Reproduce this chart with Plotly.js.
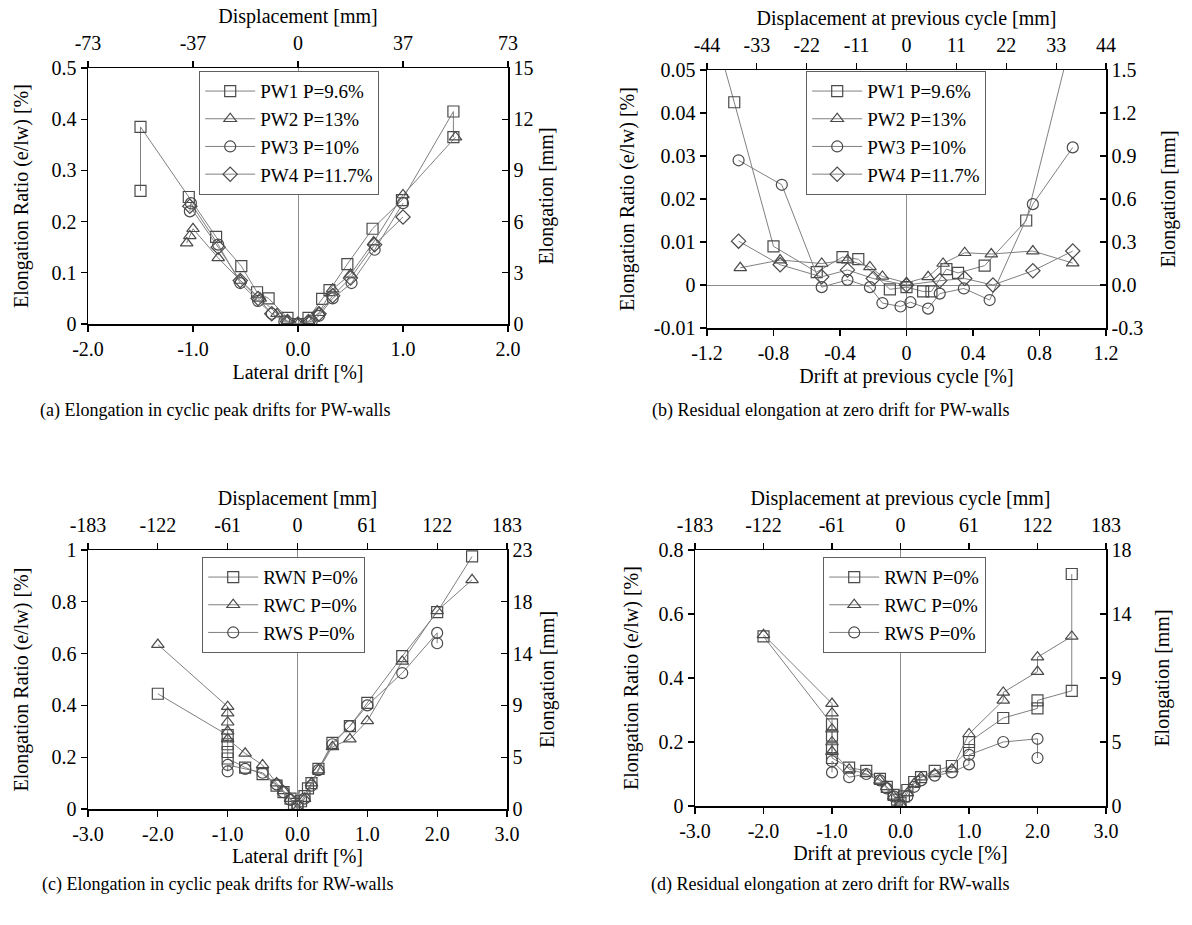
<!DOCTYPE html>
<html>
<head>
<meta charset="utf-8">
<script src="https://cdn.plot.ly/plotly-3.0.1.min.js"></script>
<style>html,body{margin:0;padding:0;background:#fff;}#chart{width:1192px;height:925px;}</style>
</head>
<body>
<div id="chart"></div>
<script>
// ---------- Panel (a): Elongation in cyclic peak drifts, PW walls ----------
const aPW1x = [-1.5, -1.5, -1.04, -0.78, -0.54, -0.39, -0.28, -0.1, 0.0, 0.1, 0.23, 0.3, 0.47, 0.71, 0.99, 1.48, 1.48];
const aPW1y = [0.26, 0.385, 0.248, 0.17, 0.113, 0.062, 0.05, 0.012, 0.0, 0.012, 0.049, 0.066, 0.117, 0.186, 0.242, 0.415, 0.365];
const aPW2x = [-1.06, -1.03, -1.0, -0.76, -0.55, -0.36, -0.2, -0.1, 0.0, 0.1, 0.2, 0.33, 0.5, 0.72, 1.0, 1.5];
const aPW2y = [0.158, 0.172, 0.186, 0.129, 0.085, 0.05, 0.02, 0.006, 0.0, 0.006, 0.022, 0.068, 0.097, 0.16, 0.252, 0.365];
const aPW3x = [-1.03, -1.02, -0.76, -0.55, -0.38, -0.25, -0.13, 0.0, 0.13, 0.2, 0.33, 0.51, 0.73, 1.0];
const aPW3y = [0.22, 0.236, 0.155, 0.08, 0.045, 0.02, 0.005, 0.0, 0.005, 0.016, 0.05, 0.08, 0.145, 0.236];
const aPW4x = [-1.03, -0.76, -0.55, -0.38, -0.25, -0.1, 0.0, 0.1, 0.2, 0.33, 0.5, 0.73, 1.0];
const aPW4y = [0.23, 0.15, 0.085, 0.05, 0.02, 0.005, 0.0, 0.005, 0.02, 0.055, 0.09, 0.155, 0.209];

// ---------- Panel (b): Residual elongation at zero drift, PW walls ----------
const bPW1x = [-1.5, -1.036, -0.8, -0.54, -0.385, -0.29, -0.1, 0.0, 0.1, 0.15, 0.24, 0.31, 0.47, 0.72, 1.5];
const bPW1y = [0.107, 0.0425, 0.009, 0.003, 0.0065, 0.006, -0.001, -0.0005, -0.0015, -0.0015, 0.0037, 0.0028, 0.0045, 0.015, 0.136];
const bPW2x = [-1.0, -0.76, -0.51, -0.355, -0.22, -0.145, 0.0, 0.13, 0.22, 0.35, 0.51, 0.76, 1.0];
const bPW2y = [0.004, 0.0058, 0.005, 0.0058, 0.0042, 0.002, 0.0005, 0.0019, 0.005, 0.0075, 0.0072, 0.0079, 0.0051];
const bPW3x = [-1.01, -0.75, -0.51, -0.355, -0.22, -0.145, -0.036, 0.024, 0.13, 0.2, 0.345, 0.5, 0.76, 1.0];
const bPW3y = [0.029, 0.0233, -0.0005, 0.0012, -0.0005, -0.0042, -0.005, -0.004, -0.0055, -0.002, -0.0008, -0.0035, 0.0188, 0.032];
const bPW4x = [-1.01, -0.76, -0.51, -0.355, -0.2, 0.0, 0.2, 0.35, 0.52, 0.76, 1.0];
const bPW4y = [0.0102, 0.0047, 0.0019, 0.0035, 0.0015, 0.0, 0.001, 0.0015, 0.0, 0.0033, 0.0079];

// ---------- Panel (c): Elongation in cyclic peak drifts, RW walls ----------
const cRWNx = [-2.0, -1.0, -1.0, -1.0, -1.0, -0.75, -0.5, -0.3, -0.2, -0.1, -0.05, 0.0, 0.05, 0.1, 0.15, 0.2, 0.3, 0.5, 0.75, 1.0, 1.5, 2.0, 2.5];
const cRWNy = [0.445, 0.285, 0.25, 0.22, 0.195, 0.16, 0.135, 0.09, 0.065, 0.04, 0.02, 0.01, 0.03, 0.05, 0.08, 0.1, 0.155, 0.255, 0.32, 0.41, 0.59, 0.76, 0.975];
const cRWCx = [-2.0, -1.0, -1.0, -1.0, -1.0, -1.0, -0.75, -0.5, -0.3, -0.2, -0.1, 0.0, 0.1, 0.2, 0.3, 0.5, 0.75, 1.0, 1.5, 2.0, 2.5];
const cRWCy = [0.635, 0.395, 0.37, 0.335, 0.3, 0.27, 0.215, 0.17, 0.1, 0.07, 0.04, 0.0, 0.04, 0.1, 0.15, 0.24, 0.27, 0.34, 0.57, 0.765, 0.885];
const cRWSx = [-1.0, -1.0, -0.75, -0.5, -0.3, -0.2, -0.1, 0.0, 0.1, 0.2, 0.3, 0.5, 0.75, 1.0, 1.5, 2.0, 2.0];
const cRWSy = [0.145, 0.17, 0.155, 0.14, 0.095, 0.065, 0.035, 0.01, 0.04, 0.09, 0.15, 0.25, 0.32, 0.4, 0.525, 0.68, 0.64];

// ---------- Panel (d): Residual elongation at zero drift, RW walls ----------
const dRWNx = [-2.0, -1.0, -1.0, -1.0, -1.0, -0.75, -0.5, -0.3, -0.2, -0.1, -0.05, 0.0, 0.05, 0.1, 0.2, 0.3, 0.5, 0.75, 1.0, 1.0, 1.5, 2.0, 2.0, 2.5, 2.5];
const dRWNy = [0.53, 0.255, 0.22, 0.18, 0.15, 0.12, 0.11, 0.085, 0.06, 0.035, 0.02, 0.01, 0.03, 0.05, 0.075, 0.09, 0.11, 0.125, 0.175, 0.2, 0.275, 0.305, 0.33, 0.36, 0.725];
const dRWCx = [-2.0, -1.0, -1.0, -1.0, -1.0, -1.0, -0.75, -0.5, -0.3, -0.2, -0.1, 0.0, 0.1, 0.2, 0.3, 0.5, 0.75, 1.0, 1.5, 1.5, 2.0, 2.0, 2.5];
const dRWCy = [0.535, 0.32, 0.29, 0.24, 0.2, 0.17, 0.115, 0.1, 0.08, 0.06, 0.03, 0.005, 0.04, 0.07, 0.09, 0.1, 0.115, 0.225, 0.33, 0.355, 0.42, 0.465, 0.53];
const dRWSx = [-1.0, -1.0, -0.75, -0.5, -0.3, -0.2, -0.1, 0.0, 0.1, 0.2, 0.3, 0.5, 0.75, 1.0, 1.0, 1.5, 2.0, 2.0];
const dRWSy = [0.105, 0.14, 0.09, 0.1, 0.08, 0.055, 0.03, 0.0, 0.03, 0.06, 0.08, 0.095, 0.105, 0.13, 0.16, 0.2, 0.21, 0.15];

// ---------- Labels and ticks ----------
const pwNames = ['PW1 P=9.6%', 'PW2 P=13%', 'PW3 P=10%', 'PW4 P=11.7%'];
const rwNames = ['RWN P=0%', 'RWC P=0%', 'RWS P=0%'];
const pwSymbols = ['square-open', 'triangle-up-open', 'circle-open', 'diamond-open'];
const rwSymbols = ['square-open', 'triangle-up-open', 'circle-open'];

const aXticks = [-2, -1, 0, 1, 2];
const aXlabels = ['-2.0', '-1.0', '0.0', '1.0', '2.0'];
const aTopLabels = ['-73', '-37', '0', '37', '73'];
const aYticks = [0, 0.1, 0.2, 0.3, 0.4, 0.5];
const aYlabels = ['0', '0.1', '0.2', '0.3', '0.4', '0.5'];
const aRightLabels = ['0', '3', '6', '9', '12', '15'];

const bXticks = [-1.2, -0.8, -0.4, 0, 0.4, 0.8, 1.2];
const bXlabels = ['-1.2', '-0.8', '-0.4', '0', '0.4', '0.8', '1.2'];
const bTopTicks = [-1.2, -0.9, -0.6, -0.3, 0, 0.3, 0.6, 0.9, 1.2];
const bTopLabels = ['-44', '-33', '-22', '-11', '0', '11', '22', '33', '44'];
const bYticks = [-0.01, 0, 0.01, 0.02, 0.03, 0.04, 0.05];
const bYlabels = ['-0.01', '0', '0.01', '0.02', '0.03', '0.04', '0.05'];
const bRightLabels = ['-0.3', '0.0', '0.3', '0.6', '0.9', '1.2', '1.5'];

const cXticks = [-3, -2, -1, 0, 1, 2, 3];
const cXlabels = ['-3.0', '-2.0', '-1.0', '0.0', '1.0', '2.0', '3.0'];
const cTopLabels = ['-183', '-122', '-61', '0', '61', '122', '183'];
const cYticks = [0, 0.2, 0.4, 0.6, 0.8, 1.0];
const cYlabels = ['0', '0.2', '0.4', '0.6', '0.8', '1'];
const cRightLabels = ['0', '5', '9', '14', '18', '23'];

const dYticks = [0, 0.2, 0.4, 0.6, 0.8];
const dYlabels = ['0', '0.2', '0.4', '0.6', '0.8'];
const dRightLabels = ['0', '5', '9', '14', '18'];

// ---------- Build ----------
const FONT = 'Liberation Serif, Times New Roman, serif';
const LINE_COLOR = '#808080';
const MARK_COLOR = '#4a4a4a';

function series(x, y, name, symbol, xa, ya, leg) {
  return {
    type: 'scatter', mode: 'lines+markers', x: x, y: y, name: name,
    xaxis: xa, yaxis: ya, legend: leg,
    line: {color: LINE_COLOR, width: 1},
    marker: {symbol: symbol, size: 11, color: MARK_COLOR, line: {width: 1.2}},
    hoverinfo: 'skip'
  };
}
function dummy(xa, ya) {
  return {type: 'scatter', mode: 'markers', x: [], y: [], xaxis: xa, yaxis: ya, showlegend: false, hoverinfo: 'skip'};
}

const traces = [];
[[aPW1x, aPW1y], [aPW2x, aPW2y], [aPW3x, aPW3y], [aPW4x, aPW4y]].forEach((s, i) =>
  traces.push(series(s[0], s[1], pwNames[i], pwSymbols[i], 'x', 'y', 'legend')));
[[bPW1x, bPW1y], [bPW2x, bPW2y], [bPW3x, bPW3y], [bPW4x, bPW4y]].forEach((s, i) =>
  traces.push(series(s[0], s[1], pwNames[i], pwSymbols[i], 'x2', 'y2', 'legend2')));
[[cRWNx, cRWNy], [cRWCx, cRWCy], [cRWSx, cRWSy]].forEach((s, i) =>
  traces.push(series(s[0], s[1], rwNames[i], rwSymbols[i], 'x3', 'y3', 'legend3')));
[[dRWNx, dRWNy], [dRWCx, dRWCy], [dRWSx, dRWSy]].forEach((s, i) =>
  traces.push(series(s[0], s[1], rwNames[i], rwSymbols[i], 'x4', 'y4', 'legend4')));
traces.push(dummy('x5', 'y5'), dummy('x6', 'y6'), dummy('x7', 'y7'), dummy('x8', 'y8'));

const tickFont = {family: FONT, size: 20, color: '#000'};
const titleFont = {family: FONT, size: 20, color: '#000'};

function ax(opts) {
  const base = {
    showline: true, linecolor: '#000', linewidth: 1.5, mirror: false,
    ticks: 'outside', ticklen: 6, tickwidth: 1.2, tickcolor: '#000',
    showgrid: false, zeroline: false, tickfont: tickFont, tickmode: 'array',
    fixedrange: true
  };
  return Object.assign(base, opts);
}

const W = 1192, H = 925;
const px = v => v / W;
const py = v => (H - v) / H;

const dom = {
  a: {x: [px(88), px(508)], y: [py(324), py(68)]},
  b: {x: [px(707), px(1106)], y: [py(328), py(70)]},
  c: {x: [px(88), px(507)], y: [py(809), py(550)]},
  d: {x: [px(695), px(1106)], y: [py(806), py(550)]}
};

const zl = {zeroline: true, zerolinecolor: '#8c8c8c', zerolinewidth: 1};

function legendCfg(x, y) {
  return {
    x: x, y: y, xanchor: 'left', yanchor: 'top', xref: 'paper', yref: 'paper',
    bgcolor: '#fff', bordercolor: '#606060', borderwidth: 1.2,
    font: {family: FONT, size: 19, color: '#000'},
    itemwidth: 50, tracegroupgap: 0
  };
}

const layout = {
  width: W, height: H,
  margin: {l: 0, r: 0, t: 0, b: 0},
  paper_bgcolor: '#fff', plot_bgcolor: 'rgba(0,0,0,0)',
  font: {family: FONT, color: '#000'},
  hovermode: false,
  // Panel a
  xaxis: ax(Object.assign({domain: dom.a.x, anchor: 'y', range: [-2, 2], tickvals: aXticks, ticktext: aXlabels,
    title: {text: 'Lateral drift [%]', font: titleFont, standoff: 6}}, zl)),
  yaxis: ax({domain: dom.a.y, anchor: 'x', range: [0, 0.5], tickvals: aYticks, ticktext: aYlabels,
    title: {text: 'Elongation Ratio (e/lw) [%]', font: titleFont, standoff: 17}}),
  xaxis5: ax({overlaying: 'x', anchor: 'y5', side: 'top', range: [-2, 2], tickvals: aXticks, ticktext: aTopLabels,
    ticklabelstandoff: 3, title: {text: 'Displacement [mm]', font: titleFont, standoff: 2}}),
  yaxis5: ax({overlaying: 'y', anchor: 'x5', side: 'right', range: [0, 0.5], tickvals: aYticks, ticktext: aRightLabels,
    ticks: 'inside', title: {text: 'Elongation [mm]', font: titleFont, standoff: 6}}),
  // Panel b
  xaxis2: ax(Object.assign({domain: dom.b.x, anchor: 'y2', range: [-1.2, 1.2], tickvals: bXticks, ticktext: bXlabels,
    title: {text: 'Drift at previous cycle [%]', font: titleFont, standoff: 6}}, zl)),
  yaxis2: ax(Object.assign({domain: dom.b.y, anchor: 'x2', range: [-0.01, 0.05], tickvals: bYticks, ticktext: bYlabels,
    title: {text: 'Elongation Ratio (e/lw) [%]', font: titleFont, standoff: 14}}, zl)),
  xaxis6: ax({overlaying: 'x2', anchor: 'y6', side: 'top', range: [-1.2, 1.2], tickvals: bTopTicks, ticktext: bTopLabels,
    ticklabelstandoff: 3, title: {text: 'Displacement at previous cycle [mm]', font: titleFont, standoff: 2}}),
  yaxis6: ax({overlaying: 'y2', anchor: 'x6', side: 'right', range: [-0.01, 0.05], tickvals: bYticks, ticktext: bRightLabels,
    ticks: 'inside', title: {text: 'Elongation [mm]', font: titleFont, standoff: 19}}),
  // Panel c
  xaxis3: ax(Object.assign({domain: dom.c.x, anchor: 'y3', range: [-3, 3], tickvals: cXticks, ticktext: cXlabels,
    title: {text: 'Lateral drift [%]', font: titleFont, standoff: 0}}, zl)),
  yaxis3: ax({domain: dom.c.y, anchor: 'x3', range: [0, 1], tickvals: cYticks, ticktext: cYlabels,
    title: {text: 'Elongation Ratio (e/lw) [%]', font: titleFont, standoff: 17}}),
  xaxis7: ax({overlaying: 'x3', anchor: 'y7', side: 'top', range: [-3, 3], tickvals: cXticks, ticktext: cTopLabels,
    ticklabelstandoff: 3, title: {text: 'Displacement [mm]', font: titleFont, standoff: 2}}),
  yaxis7: ax({overlaying: 'y3', anchor: 'x7', side: 'right', range: [0, 1], tickvals: cYticks, ticktext: cRightLabels,
    ticks: 'inside', title: {text: 'Elongation [mm]', font: titleFont, standoff: 8}}),
  // Panel d
  xaxis4: ax(Object.assign({domain: dom.d.x, anchor: 'y4', range: [-3, 3], tickvals: cXticks, ticktext: cXlabels,
    title: {text: 'Drift at previous cycle [%]', font: titleFont, standoff: 0}}, zl)),
  yaxis4: ax({domain: dom.d.y, anchor: 'x4', range: [0, 0.8], tickvals: dYticks, ticktext: dYlabels,
    title: {text: 'Elongation Ratio (e/lw) [%]', font: titleFont, standoff: 14}}),
  xaxis8: ax({overlaying: 'x4', anchor: 'y8', side: 'top', range: [-3, 3], tickvals: cXticks, ticktext: cTopLabels,
    ticklabelstandoff: 3, title: {text: 'Displacement at previous cycle [mm]', font: titleFont, standoff: 2}}),
  yaxis8: ax({overlaying: 'y4', anchor: 'x8', side: 'right', range: [0, 0.8], tickvals: dYticks, ticktext: dRightLabels,
    ticks: 'inside', title: {text: 'Elongation [mm]', font: titleFont, standoff: 24}}),
  legend: legendCfg(px(199), py(71)),
  legend2: legendCfg(px(806), py(71)),
  legend3: legendCfg(px(202), py(557)),
  legend4: legendCfg(px(823), py(557)),
  annotations: [
    {text: '(a) Elongation in cyclic peak drifts for PW-walls', x: px(215), y: py(410)},
    {text: '(b) Residual elongation at zero drift for PW-walls', x: px(830), y: py(410)},
    {text: '(c) Elongation in cyclic peak drifts for RW-walls', x: px(217), y: py(884)},
    {text: '(d) Residual elongation at zero drift for RW-walls', x: px(830), y: py(884)}
  ].map(a => Object.assign(a, {xref: 'paper', yref: 'paper', xanchor: 'center', yanchor: 'middle',
    showarrow: false, font: {family: FONT, size: 18, color: '#000'}}))
};

Plotly.newPlot('chart', traces, layout, {staticPlot: true, displayModeBar: false});
</script>
</body>
</html>
